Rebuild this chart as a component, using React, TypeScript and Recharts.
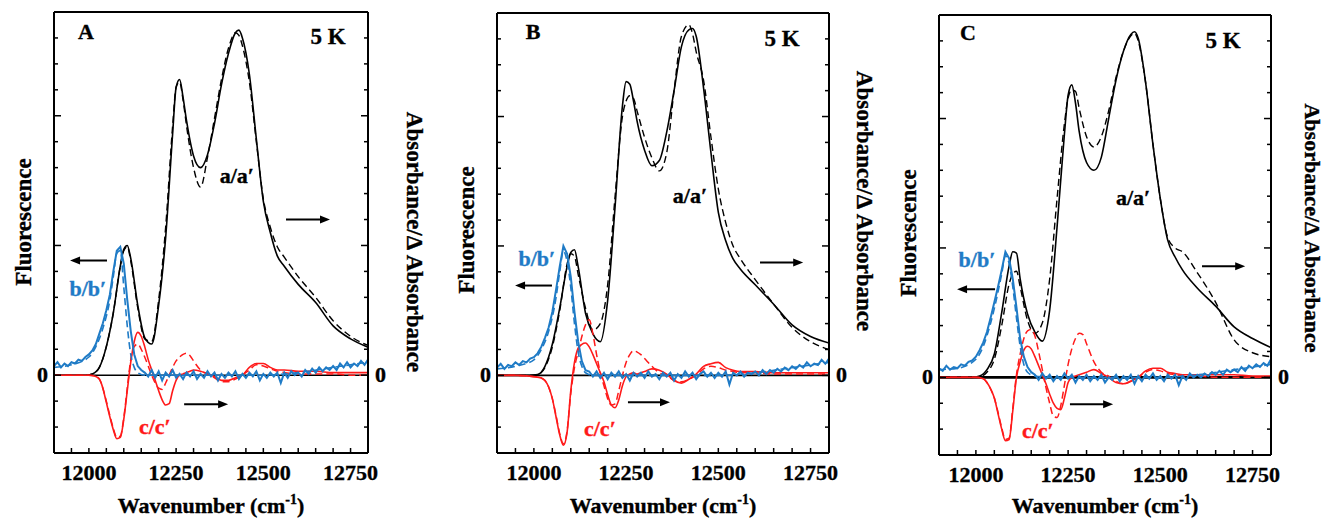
import React from 'react';
import { LineChart, Line, XAxis, YAxis, ReferenceLine, ReferenceDot } from 'recharts';

const FONT = '"Liberation Serif", "Times New Roman", serif';
const BLUE = '#1f7bc6';
const RED = '#ff1a1a';

// ---------- shared wavenumber grids ----------
const WN_ABS = [11900, 11950, 11990, 12010, 12030, 12050, 12070, 12090, 12100, 12110, 12120, 12140, 12160, 12180, 12200, 12220, 12240, 12250, 12260, 12270, 12280, 12300, 12320, 12340, 12360, 12380, 12400, 12420, 12430, 12440, 12460, 12480, 12500, 12520, 12540, 12560, 12600, 12650, 12700, 12750, 12800];
const WN_RED = [11900, 11950, 12000, 12020, 12030, 12040, 12050, 12060, 12070, 12080, 12090, 12100, 12110, 12120, 12130, 12140, 12150, 12160, 12170, 12180, 12190, 12200, 12210, 12220, 12230, 12240, 12250, 12260, 12270, 12280, 12290, 12300, 12320, 12340, 12360, 12380, 12400, 12420, 12440, 12460, 12480, 12500, 12520, 12540, 12560, 12600, 12650, 12700, 12750, 12800];
const WN_FLU = [11900, 11910, 11920, 11930, 11940, 11950, 11960, 11970, 11980, 11990,
  12000, 12010, 12020, 12030, 12040, 12050, 12060, 12070, 12080, 12090,
  12100, 12110, 12120, 12130, 12140, 12150, 12160, 12170, 12180, 12190,
  12200, 12210, 12220, 12230, 12240, 12250, 12260, 12270, 12280, 12290,
  12300, 12310, 12320, 12330, 12340, 12350, 12360, 12370, 12380, 12390,
  12400, 12410, 12420, 12430, 12440, 12450, 12460, 12470, 12480, 12490,
  12500, 12510, 12520, 12530, 12540, 12550, 12560, 12570, 12580, 12590,
  12600, 12610, 12620, 12630, 12640, 12650, 12660, 12670, 12680, 12690,
  12700, 12710, 12720, 12730, 12740, 12750, 12760, 12770, 12780, 12790, 12800];
const WN_FLU_D = [11900, 11950, 12000, 12020, 12040, 12060, 12070, 12080, 12090, 12100, 12110, 12120, 12130, 12140, 12160, 12200, 12300, 12400, 12500, 12600, 12700, 12800];

const X_TICKS = [11950, 12000, 12050, 12100, 12150, 12200, 12250, 12300, 12350, 12400, 12450, 12500, 12550, 12600, 12650, 12700, 12750];
const X_LABELS = [12000, 12250, 12500, 12750];
const Y_TICKS = [-2, -1, 0, 1, 2, 3, 4, 5, 6, 7, 8, 9, 10, 11, 12, 13];

// ---------- panel A ----------
const A_ABS = [0, 0, 0, 0.05, 0.3, 1.1, 2.4, 4.2, 4.85, 5.0, 4.5, 2.7, 1.45, 1.2, 2.7, 5.3, 9.3, 11.1, 11.4, 10.7, 9.8, 8.45, 8.0, 8.5, 9.7, 11.2, 12.4, 13.2, 13.3, 13.0, 11.6, 9.1, 6.7, 5.5, 4.6, 4.2, 3.5, 2.8, 1.9, 1.4, 1.08];
const A_ABS_D = [0, 0, 0, 0.05, 0.3, 1.1, 2.4, 4.2, 4.8, 4.95, 4.4, 2.6, 1.4, 1.3, 2.9, 5.7, 9.6, 11.1, 11.3, 10.6, 9.6, 8.0, 7.25, 8.4, 9.9, 11.4, 12.6, 13.2, 13.1, 12.7, 11.3, 9.0, 6.8, 5.7, 4.95, 4.55, 3.8, 3.0, 2.1, 1.5, 1.15];
const A_DIFF = [0, 0, 0,
  -0.05, -0.15, -0.5, -1.05, -1.6, -2.1, -2.45, -2.4, -1.7, -0.6,
  0.5, 1.3, 1.65, 1.5, 1.1, 0.6, 0.2, -0.2, -0.6, -0.95,
  -1.15, -1.1, -0.6, -0.2, 0.0, 0.05, 0.1, 0.15, 0.2,
  0.15, 0.05, -0.05, -0.2, -0.2, -0.1, 0.0, 0.3, 0.45, 0.45, 0.3, 0.2, 0.2,
  0.15, 0.15, 0.1, 0.1, 0.1];
const A_DIFF_D = [0, 0, 0,
  -0.05, -0.15, -0.5, -1.0, -1.55, -2.05, -2.4, -2.35, -1.65, -0.5,
  0.6, 1.1, 1.2, 1.0, 0.7, 0.35, 0.0, -0.3, -0.5, -0.55,
  -0.3, 0.0, 0.3, 0.55, 0.7, 0.8, 0.85, 0.75, 0.55,
  0.2, 0.05, -0.1, -0.25, -0.25, -0.15, 0.0, 0.2, 0.4, 0.35, 0.25, 0.15, 0.1,
  0.05, 0.05, 0.05, 0.0, 0.0];
const A_FLU = [0.35, 0.5, 0.3, 0.45, 0.35, 0.5, 0.45, 0.6, 0.55, 0.7,
  0.8, 0.95, 1.2, 1.6, 2.0, 2.5, 3.1, 4.0, 4.8, 4.95,
  4.3, 2.9, 1.7, 0.8, 0.35, 0.2, 0.1, -0.05, 0.2, -0.1,
  0.15, -0.2, 0.1, -0.05, 0.2, -0.1, 0.05, -0.15, 0.1, -0.05,
  0.15, -0.15, 0.05, -0.1, 0.15, -0.05, 0.1, -0.2, 0.05, -0.1,
  0.1, -0.05, 0.15, -0.15, 0.05, -0.1, 0.1, -0.05, 0.15, -0.2,
  0.05, -0.1, 0.1, -0.05, 0.1, -0.3, 0.1, -0.1, 0.15, 0.0,
  0.1, -0.05, 0.2, 0.05, 0.25, 0.1, 0.3, 0.15, 0.3, 0.2,
  0.35, 0.2, 0.45, 0.3, 0.5, 0.3, 0.45, 0.35, 0.55, 0.4, 0.6];
const A_FLU_D = [0.3, 0.4, 0.7, 1.1, 1.8, 2.9, 3.8, 4.7, 4.8, 3.4, 1.9, 0.8, 0.3, 0.1, 0.0, 0.0, 0.0, 0.0, 0.0, 0.1, 0.3, 0.5];

// ---------- panel B ----------
const B_ABS = [0, 0, 0, 0.03, 0.35, 1.2, 2.6, 4.2, 4.75, 4.85, 4.2, 2.4, 1.6, 1.3, 2.9, 6.5, 10.4, 11.35, 11.25, 10.6, 9.8, 8.7, 8.1, 8.3, 9.4, 11.0, 12.7, 13.35, 13.4, 13.1, 11.1, 8.6, 6.3, 5.2, 4.5, 4.1, 3.5, 2.75, 1.95, 1.5, 1.25];
const B_ABS_D = [0, 0, 0, 0.03, 0.3, 1.1, 2.5, 4.3, 4.7, 4.6, 3.9, 2.6, 1.75, 2.0, 3.5, 6.9, 10.0, 10.6, 10.8, 10.7, 10.2, 9.2, 8.4, 7.9, 8.6, 11.0, 13.1, 13.55, 13.2, 12.5, 11.4, 9.2, 7.2, 5.9, 5.0, 4.5, 3.7, 2.75, 1.85, 1.3, 1.0];
const B_DIFF = [0, 0, -0.05,
  -0.1, -0.2, -0.45, -0.9, -1.6, -2.3, -2.7, -2.2, -0.6, 0.5,
  1.05, 1.2, 1.25, 1.1, 0.8, 0.45, 0.1, -0.25, -0.75, -1.15,
  -1.25, -0.95, -0.4, -0.05, 0.05, 0.1, 0.05, 0.1, 0.15,
  0.25, 0.2, 0.05, -0.2, -0.3, -0.15, 0.05, 0.35, 0.45, 0.5, 0.3, 0.2, 0.15,
  0.15, 0.1, 0.1, 0.1, 0.1];
const B_DIFF_D = [0, 0, -0.05,
  -0.1, -0.2, -0.45, -0.9, -1.55, -2.25, -2.65, -2.15, -0.7, 0.3,
  0.9, 1.5, 1.95, 2.15, 1.6, 0.8, 0.1, -0.4, -0.9, -1.15,
  -1.1, -0.6, 0.0, 0.5, 0.8, 0.95, 0.9, 0.8, 0.65,
  0.35, 0.1, 0.0, -0.2, -0.25, -0.15, 0.0, 0.25, 0.35, 0.3, 0.2, 0.15, 0.1,
  0.1, 0.05, 0.05, 0.05, 0.05];
const B_FLU = [0.3, 0.45, 0.25, 0.4, 0.35, 0.5, 0.4, 0.55, 0.5, 0.65,
  0.7, 0.85, 1.1, 1.45, 1.85, 2.45, 3.3, 4.2, 5.0, 4.7,
  3.8, 2.45, 1.3, 0.55, 0.2, 0.15, -0.05, 0.15, -0.1, 0.1,
  -0.15, 0.1, -0.05, 0.15, -0.1, 0.05, -0.2, 0.1, -0.05, 0.1,
  -0.1, 0.15, -0.05, 0.05, -0.15, 0.1, -0.05, 0.1, -0.2, 0.05,
  -0.1, 0.15, -0.05, 0.1, -0.15, 0.05, 0.15, -0.05, 0.1, -0.1,
  0.1, -0.05, 0.15, -0.35, 0.1, 0.0, 0.15, -0.05, 0.1, 0.05,
  0.15, 0.0, 0.2, 0.05, 0.2, 0.1, 0.25, 0.15, 0.3, 0.2,
  0.35, 0.25, 0.4, 0.3, 0.5, 0.35, 0.45, 0.4, 0.6, 0.45, 0.65];
const B_FLU_D = [0.25, 0.35, 0.6, 1.0, 1.7, 3.0, 4.0, 4.8, 4.4, 3.4, 2.0, 0.9, 0.35, 0.1, 0.0, 0.0, 0.0, 0.0, 0.0, 0.1, 0.3, 0.5];

// ---------- panel C ----------
const C_ABS = [0, 0, 0, 0.05, 0.3, 0.9, 2.5, 4.3, 4.85, 4.8, 3.8, 2.45, 1.75, 1.4, 2.6, 5.8, 9.4, 10.9, 11.3, 10.6, 9.5, 8.3, 8.0, 8.5, 10.0, 11.5, 12.6, 13.25, 13.35, 13.1, 11.4, 9.0, 6.9, 5.3, 4.65, 4.15, 3.45, 2.75, 1.95, 1.5, 1.15];
const C_ABS_D = [0, 0, 0, 0.03, 0.2, 0.7, 2.0, 3.6, 4.0, 4.1, 3.5, 2.2, 1.7, 2.1, 3.8, 6.9, 9.8, 10.8, 11.1, 11.05, 10.4, 9.3, 8.9, 9.3, 10.3, 11.6, 12.6, 13.2, 13.3, 13.0, 11.4, 9.0, 6.9, 5.4, 5.0, 4.85, 4.05, 2.9, 1.45, 0.95, 0.8];
const C_DIFF = [0, 0, 0,
  -0.05, -0.2, -0.45, -0.8, -1.4, -2.0, -2.45, -2.4, -1.3, 0.0,
  0.6, 1.05, 1.2, 1.1, 0.8, 0.45, 0.1, -0.25, -0.65, -1.0,
  -1.2, -1.25, -0.8, -0.2, 0.0, 0.05, 0.1, 0.15, 0.2,
  0.3, 0.15, 0.0, -0.2, -0.25, -0.15, 0.0, 0.25, 0.35, 0.35, 0.2, 0.15, 0.1,
  0.1, 0.1, 0.1, 0.05, 0.05];
const C_DIFF_D = [0, 0, 0,
  -0.05, -0.2, -0.45, -0.8, -1.35, -1.95, -2.4, -2.35, -1.2, 0.1,
  0.9, 1.5, 1.8, 1.85, 1.6, 1.0, 0.3, -0.4, -1.0, -1.5,
  -1.55, -1.1, -0.3, 0.5, 1.1, 1.5, 1.7, 1.65, 1.3,
  0.6, 0.2, 0.05, -0.15, -0.25, -0.15, 0.0, 0.2, 0.3, 0.25, 0.15, 0.1, 0.05,
  0.05, 0.0, 0.0, 0.0, 0.0];
const C_FLU = [0.35, 0.25, 0.45, 0.3, 0.4, 0.35, 0.5, 0.45, 0.6, 0.65,
  0.8, 1.05, 1.35, 1.75, 2.3, 2.9, 3.5, 4.15, 4.85, 4.6,
  3.8, 2.7, 1.5, 0.8, 0.4, 0.2, 0.1, -0.1, 0.15, -0.05,
  0.1, -0.15, 0.05, -0.1, 0.15, -0.05, 0.1, -0.2, 0.05, -0.1,
  0.1, -0.15, 0.05, -0.1, 0.1, -0.2, 0.0, -0.1, 0.1, -0.15,
  0.05, -0.1, 0.1, -0.25, 0.05, -0.15, 0.1, -0.05, 0.15, -0.1,
  0.05, -0.15, 0.1, -0.05, 0.1, -0.3, 0.05, -0.1, 0.15, 0.0,
  0.1, 0.0, 0.15, 0.05, 0.2, 0.1, 0.25, 0.1, 0.3, 0.2,
  0.3, 0.2, 0.4, 0.25, 0.45, 0.35, 0.5, 0.4, 0.55, 0.45, 0.7];
const C_FLU_D = [0.3, 0.35, 0.7, 1.2, 2.1, 3.3, 4.0, 4.7, 4.4, 3.5, 2.3, 1.2, 0.5, 0.2, 0.05, 0.0, 0.0, 0.0, 0.0, 0.1, 0.3, 0.5];

const toPts = (xs: number[], ys: number[]) => xs.map((x, i) => ({ x, y: ys[i] }));

type Panel = {
  letter: string;
  l: number; r: number; t: number; b: number;
  abs: number[]; absD: number[]; flu: number[]; fluD: number[]; diff: number[]; diffD: number[];
  zeroW: number;
  la: [number, number]; lb: [number, number]; lc: [number, number];
  arL: [number, number, number]; arR: [number, number, number]; arD: [number, number, number];
  letterPos: [number, number]; kPos: [number, number];
  fluY: number; absX: number; absY: number;
};

const PANELS: Panel[] = [
  {
    letter: 'A', l: 54, r: 368, t: 12, b: 453,
    abs: A_ABS, absD: A_ABS_D, flu: A_FLU, fluD: A_FLU_D, diff: A_DIFF, diffD: A_DIFF_D, zeroW: 1.6,
    la: [12424, 7.69], lb: [11997, 3.35], lc: [12189, -1.96],
    arL: [12052, 11946, 4.42], arR: [12565, 12691, 6.0], arD: [12273, 12399, -1.12],
    letterPos: [86, 39], kPos: [328, 44], fluY: 222, absX: 414, absY: 242,
  },
  {
    letter: 'B', l: 497, r: 829, t: 13, b: 453,
    abs: B_ABS, absD: B_ABS_D, flu: B_FLU, fluD: B_FLU_D, diff: B_DIFF, diffD: B_DIFF_D, zeroW: 1.6,
    la: [12423, 6.95], lb: [12008, 4.52], lc: [12179, -2.05],
    arL: [12049, 11949, 3.47], arR: [12613, 12730, 4.36], arD: [12255, 12369, -1.04],
    letterPos: [533, 39], kPos: [782, 46], fluY: 230, absX: 864, absY: 201,
  },
  {
    letter: 'C', l: 939, r: 1271, t: 15, b: 455,
    abs: C_ABS, absD: C_ABS_D, flu: C_FLU, fluD: C_FLU_D, diff: C_DIFF, diffD: C_DIFF_D, zeroW: 2.6,
    la: [12426, 6.95], lb: [12003, 4.56], lc: [12168, -2.05],
    arL: [12052, 11949, 3.4], arR: [12613, 12730, 4.29], arD: [12255, 12372, -1.04],
    letterPos: [968, 40], kPos: [1223, 48], fluY: 233, absX: 1312, absY: 228,
  },
];

const txt = { fontFamily: FONT, fontWeight: 'bold' as const, strokeWidth: 0.35 };

const xTick = (pr: any) => {
  const { x, y, payload } = pr;
  const v = payload.value as number;
  const lab = X_LABELS.indexOf(v) >= 0;
  return (
    <g>
      <line x1={x} y1={y} x2={x} y2={y - 5} stroke="#000" strokeWidth={1.5} />
      {lab && (
        <text x={x} y={y + 27} textAnchor="middle" fontSize={22} fill="#000" stroke="#000" {...txt}>{v}</text>
      )}
    </g>
  );
};

const yTickL = (pr: any) => {
  const { x, y, payload } = pr;
  const v = payload.value as number;
  const major = v % 5 === 0;
  return (
    <g>
      <line x1={x} y1={y} x2={x + (major ? 7 : 4)} y2={y} stroke="#000" strokeWidth={1.5} />
      {v === 0 && (
        <text x={x - 6} y={y + 7} textAnchor="end" fontSize={22} fill="#000" stroke="#000" {...txt}>0</text>
      )}
    </g>
  );
};

const yTickR = (pr: any) => {
  const { x, y, payload } = pr;
  const v = payload.value as number;
  const major = v % 5 === 0;
  return (
    <g>
      <line x1={x} y1={y} x2={x - (major ? 7 : 4)} y2={y} stroke="#000" strokeWidth={1.5} />
      {v === 0 && (
        <text x={x + 7} y={y + 7} textAnchor="start" fontSize={22} fill="#000" stroke="#000" {...txt}>0</text>
      )}
    </g>
  );
};

const arrowShape = (pr: any) => {
  const { x1, y1, x2, y2 } = pr;
  const dir = x2 > x1 ? 1 : -1;
  const hl = 10;
  const hw = 4;
  return (
    <g>
      <line x1={x1} y1={y1} x2={x2 - dir * hl * 0.6} y2={y2} stroke="#000" strokeWidth={2} />
      <polygon points={`${x2},${y2} ${x2 - dir * hl},${y2 - hw} ${x2 - dir * hl},${y2 + hw}`} fill="#000" />
    </g>
  );
};

const labelShape = (text: string, color: string) => (pr: any) => (
  <text x={pr.cx} y={pr.cy} textAnchor="middle" dominantBaseline="central" fontSize={22} fill={color} stroke={color} {...txt}>{text}</text>
);

const W = 1327;
const H = 522;
const AX = 1; // axis thickness reserved by Recharts (must be > 0 to render)

function PanelChart({ p }: { p: Panel }) {
  const line = { xAxisId: 'x', yAxisId: 'L', dataKey: 'y', dot: false, isAnimationActive: false, activeDot: false } as any;
  return (
    <div style={{ position: 'absolute', left: 0, top: 0, width: W, height: H }}>
      <LineChart width={W} height={H} margin={{ top: p.t - AX, left: p.l - AX, right: W - p.r - AX, bottom: H - p.b - AX }}>
        <XAxis xAxisId="x" type="number" dataKey="x" domain={[11900, 12800]} allowDataOverflow
          ticks={X_TICKS} interval={0} height={AX} tickSize={0} tickMargin={0} tickLine={false}
          tick={xTick} axisLine={{ stroke: '#000', strokeWidth: 2 }} />
        <XAxis xAxisId="top" orientation="top" type="number" dataKey="x" domain={[11900, 12800]} allowDataOverflow
          height={AX} tick={false} tickLine={false} axisLine={{ stroke: '#000', strokeWidth: 2 }} />
        <YAxis yAxisId="L" type="number" domain={[-3, 14]} allowDataOverflow ticks={Y_TICKS} interval={0}
          width={AX} tickSize={0} tickMargin={0} tickLine={false} tick={yTickL}
          axisLine={{ stroke: '#000', strokeWidth: 2 }} />
        <YAxis yAxisId="R" orientation="right" type="number" domain={[-3, 14]} allowDataOverflow ticks={Y_TICKS} interval={0}
          width={AX} tickSize={0} tickMargin={0} tickLine={false} tick={yTickR}
          axisLine={{ stroke: '#000', strokeWidth: 2 }} />
        <ReferenceLine xAxisId="x" yAxisId="L" y={0} stroke="#000" strokeWidth={p.zeroW} />
        <Line {...line} data={toPts(WN_ABS, p.absD)} type="monotone" stroke="#000" strokeWidth={1.4} strokeDasharray="7 4" />
        <Line {...line} data={toPts(WN_ABS, p.abs)} type="monotone" stroke="#000" strokeWidth={1.6} />
        <Line {...line} data={toPts(WN_RED, p.diffD)} type="monotone" stroke={RED} strokeWidth={1.5} strokeDasharray="7 4" />
        <Line {...line} data={toPts(WN_RED, p.diff)} type="monotone" stroke={RED} strokeWidth={1.6} />
        <Line {...line} data={toPts(WN_FLU_D, p.fluD)} type="monotone" stroke={BLUE} strokeWidth={1.6} strokeDasharray="7 4" />
        <Line {...line} data={toPts(WN_FLU, p.flu)} type="linear" stroke={BLUE} strokeWidth={2} />
        <ReferenceLine xAxisId="x" yAxisId="L" segment={[{ x: p.arL[0], y: p.arL[2] }, { x: p.arL[1], y: p.arL[2] }]} shape={arrowShape} />
        <ReferenceLine xAxisId="x" yAxisId="L" segment={[{ x: p.arR[0], y: p.arR[2] }, { x: p.arR[1], y: p.arR[2] }]} shape={arrowShape} />
        <ReferenceLine xAxisId="x" yAxisId="L" segment={[{ x: p.arD[0], y: p.arD[2] }, { x: p.arD[1], y: p.arD[2] }]} shape={arrowShape} />
        <ReferenceDot xAxisId="x" yAxisId="L" x={p.la[0]} y={p.la[1]} r={0} shape={labelShape('a/a′', '#000')} />
        <ReferenceDot xAxisId="x" yAxisId="L" x={p.lb[0]} y={p.lb[1]} r={0} shape={labelShape('b/b′', BLUE)} />
        <ReferenceDot xAxisId="x" yAxisId="L" x={p.lc[0]} y={p.lc[1]} r={0} shape={labelShape('c/c′', RED)} />
      </LineChart>
    </div>
  );
}

export default function App() {
  return (
    <div style={{ position: 'absolute', left: 0, top: 0, width: W, height: H, background: '#fff', overflow: 'hidden' }}>
      {PANELS.map((p) => (
        <PanelChart key={p.letter} p={p} />
      ))}
      <svg width={W} height={H} style={{ position: 'absolute', left: 0, top: 0, pointerEvents: 'none' }}>
        {PANELS.map((p) => (
          <g key={p.letter}>
            <text x={p.letterPos[0]} y={p.letterPos[1]} textAnchor="middle" fontSize={22} fill="#000" stroke="#000" {...txt}>{p.letter}</text>
            <text x={p.kPos[0]} y={p.kPos[1]} textAnchor="middle" fontSize={23} fill="#000" stroke="#000" {...txt}>5 K</text>
            <text x={(p.l + p.r) / 2} y={513} textAnchor="middle" fontSize={22} fill="#000" stroke="#000" {...txt}>
              Wavenumber (cm<tspan fontSize={14} dy={-9}>-1</tspan><tspan dy={9}>)</tspan>
            </text>
            <text transform={`translate(${p.l - 31},${p.fluY}) rotate(-90)`} textAnchor="middle" dominantBaseline="central" fontSize={23} fill="#000" stroke="#000" {...txt}>Fluorescence</text>
            <text transform={`translate(${p.absX},${p.absY}) rotate(90)`} textAnchor="middle" dominantBaseline="central" fontSize={p.letter === 'C' ? 22 : 23} fill="#000" stroke="#000" {...txt}>Absorbance/Δ Absorbance</text>
          </g>
        ))}
      </svg>
    </div>
  );
}
